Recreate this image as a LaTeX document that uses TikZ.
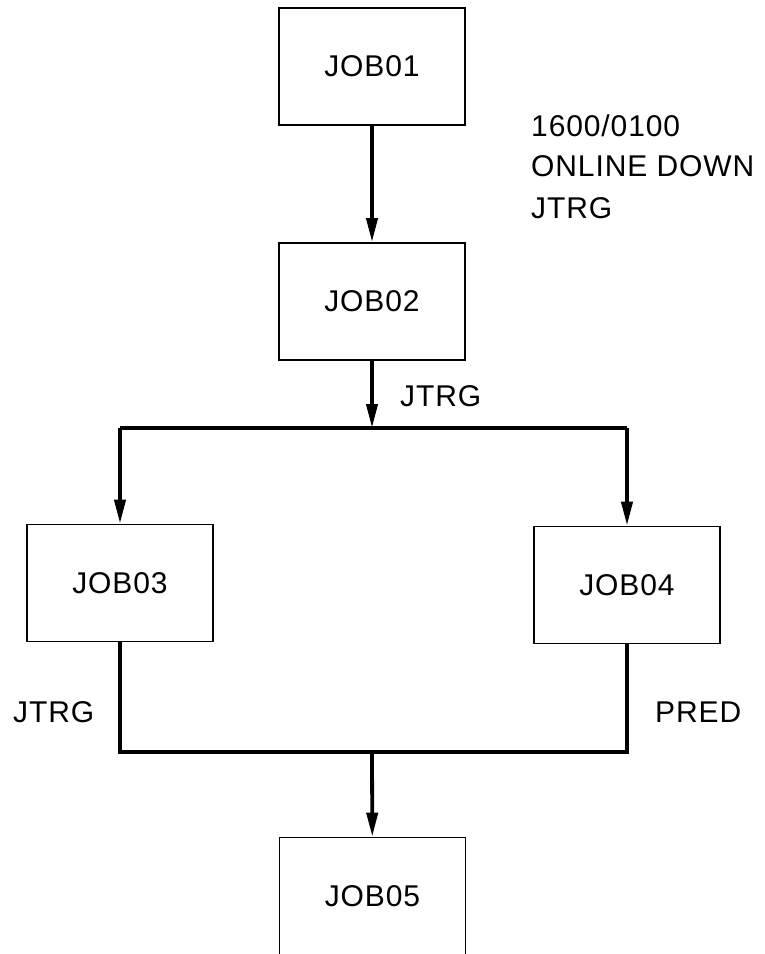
\documentclass[tikz,border=0pt]{standalone}
\usepackage{fontspec}
\setmainfont{Liberation Sans}[LetterSpace=3]
\usetikzlibrary{arrows.meta}
\begin{document}
\begin{tikzpicture}[x=1pt,y=-1pt,
  job/.style={draw, line width=1.6pt, minimum width=186pt, minimum height=117pt,
    font=\fontsize{30}{34}\selectfont, inner sep=0pt},
  conn/.style={line width=3.8pt},
  arr/.style={conn, -{Triangle[length=24pt,width=11pt]}},
  lbl/.style={font=\fontsize{30}{34}\selectfont, inner sep=0pt, anchor=west}]
\useasboundingbox (0,0) rectangle (764,954);
\node[job] (j1) at (372,66.5) {JOB01};
\node[job] (j2) at (372,301.5) {JOB02};
\node[job] (j3) at (120,583) {JOB03};
\node[job] (j4) at (627,585) {JOB04};
\node[job] (j5) at (372.5,896) {JOB05};
\coordinate (s) at (372,428);
\coordinate (l) at (120,428);
\coordinate (r) at (627,428);
\coordinate (b3) at (120,752);
\coordinate (b4) at (627,752);
\coordinate (bm) at (372,752);
\draw[arr] (j1) -- (j2);
\draw[arr] (j2) -- (s);
\draw[conn] (l) -- (r);
\draw[arr] (l) -- (j3);
\draw[arr] (r) -- (j4);
\draw[conn] (j3) -- (b3) -- (b4) -- (j4);
\draw[arr] (bm) -- (j5);
\node[lbl] (t1) at (531,126) {1600/0100};
\node[lbl] (t2) at (531,166) {ONLINE DOWN};
\node[lbl] (t3) at (531,208) {JTRG};
\node[lbl] (t4) at (400,396) {JTRG};
\node[lbl] (t5) at (13,712) {JTRG};
\node[lbl] (t6) at (655,712) {PRED};
\end{tikzpicture}
\end{document}
